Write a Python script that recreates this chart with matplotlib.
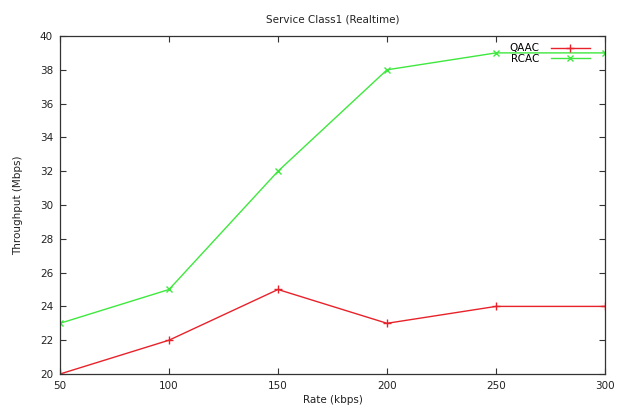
import matplotlib
matplotlib.use("Agg")
import matplotlib.pyplot as plt

rates = [50, 100, 150, 200, 250, 300]
qaac = [20, 22, 25, 23, 24, 24]
rcac = [23, 25, 32, 38, 39, 39]
yticks = list(range(20, 41, 2))

plt.rcParams['font.family'] = ['DejaVu Sans']
plt.rcParams['font.size'] = 7.5

fig = plt.figure(figsize=(6.18, 4.05), dpi=100)
ax = fig.add_axes([60/618, 1-374/405, (605-60)/618, (374-36)/405])

ax.plot(rates, qaac, color='#e8222a', marker='+', markersize=6, linewidth=1, label='QAAC')
ax.plot(rates, rcac, color='#3ee83e', marker='x', markersize=5, linewidth=1, label='RCAC')

ax.set_xlim(50, 300)
ax.set_ylim(20, 40)
ax.set_xticks(rates)
ax.set_yticks(yticks)
ax.tick_params(direction='in', top=True, right=True, length=4, width=0.8, colors='#333333', labelcolor='#222222', pad=5)
for s in ax.spines.values():
    s.set_color('#333333')
    s.set_linewidth(0.9)

ax.set_title('Service Class1 (Realtime)', fontsize=7.5, pad=10, color='#222222')
ax.set_xlabel('Rate (kbps)', labelpad=3, color='#222222')
ax.set_ylabel('Throughput (Mbps)', labelpad=12, color='#222222')

leg = ax.legend(loc='upper right', bbox_to_anchor=(0.985, 1.0), frameon=False, markerfirst=False,
                handlelength=3.7, handletextpad=1.1, labelspacing=0.05, borderaxespad=0.3, fontsize=7.5)

fig.savefig('out.png', dpi=100)
